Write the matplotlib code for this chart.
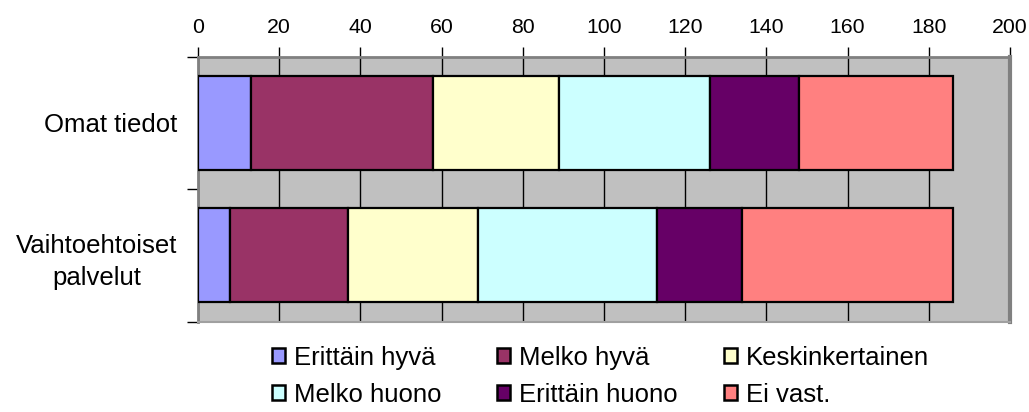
import matplotlib
matplotlib.use("Agg")
import matplotlib.pyplot as plt
from matplotlib.patches import Patch
import numpy as np

plt.rcParams['font.family'] = ['Liberation Sans', 'DejaVu Sans']

categories = ["Omat tiedot", "Vaihtoehtoiset\npalvelut"]
series_names = ["Erittäin hyvä", "Melko hyvä", "Keskinkertainen",
                "Melko huono", "Erittäin huono", "Ei vast."]
values = {
    "Erittäin hyvä":   [13, 8],
    "Melko hyvä":      [45, 29],
    "Keskinkertainen": [31, 32],
    "Melko huono":     [37, 44],
    "Erittäin huono":  [22, 21],
    "Ei vast.":        [38, 52],
}
colors = ["#9999FF", "#993366", "#FFFFCC", "#CCFFFF", "#660066", "#FF8080"]
x_ticks = [0, 20, 40, 60, 80, 100, 120, 140, 160, 180, 200]

fig = plt.figure(figsize=(10.29, 4.12), dpi=100)
ax = fig.add_axes([198/1029, 1-321.7/412, 812/1029, 265/412])
ax.set_facecolor("#C0C0C0")

y = np.arange(len(categories))
left = np.zeros(len(categories))
for name, col in zip(series_names, colors):
    v = np.array(values[name], dtype=float)
    ax.barh(y, v, left=left, height=0.71, color=col, edgecolor="black",
            linewidth=1.6, zorder=3)
    left += v

ax.set_xlim(0, 200)
ax.set_ylim(1.5, -0.5)
ax.set_xticks(x_ticks)
ax.xaxis.tick_top()
ax.tick_params(axis='x', direction='out', length=7, width=1, color='black',
               labelsize=15.3, pad=7)
ax.xaxis.grid(True, color='black', linewidth=1, zorder=1)
ax.set_axisbelow(True)

ax.set_yticks([-0.5, 0.5, 1.5])
ax.set_yticklabels([])
ax.set_yticks(y, minor=True)
ax.set_yticklabels(categories, minor=True, fontsize=18.5, linespacing=1.4,
                   multialignment='center')
ax.tick_params(axis='y', which='major', direction='out', length=8, width=1,
               color='black')
ax.tick_params(axis='y', which='minor', length=0, pad=15)

for s in ['top', 'left']:
    ax.spines[s].set_color('#808080')
    ax.spines[s].set_linewidth(2)
ax.spines['right'].set_color('#808080')
ax.spines['right'].set_linewidth(3)
ax.spines['bottom'].set_color('#A0A0A0')
ax.spines['bottom'].set_linewidth(1.5)

# legend in three columns, placed like the reference
col_x = [272/1029, 497/1029, 724/1029]
order = [[0, 3], [1, 4], [2, 5]]
for cx, idxs in zip(col_x, order):
    handles = [Patch(facecolor=colors[i], edgecolor='black', linewidth=1.8)
               for i in idxs]
    labels = [series_names[i] for i in idxs]
    fig.legend(handles, labels, loc='upper left',
               bbox_to_anchor=(cx, 1-346/412), frameon=False,
               fontsize=18.5, handlelength=0.52, handleheight=0.52,
               handletextpad=0.35, labelspacing=0.5, borderpad=0,
               borderaxespad=0)

fig.savefig("out.png", dpi=100)
